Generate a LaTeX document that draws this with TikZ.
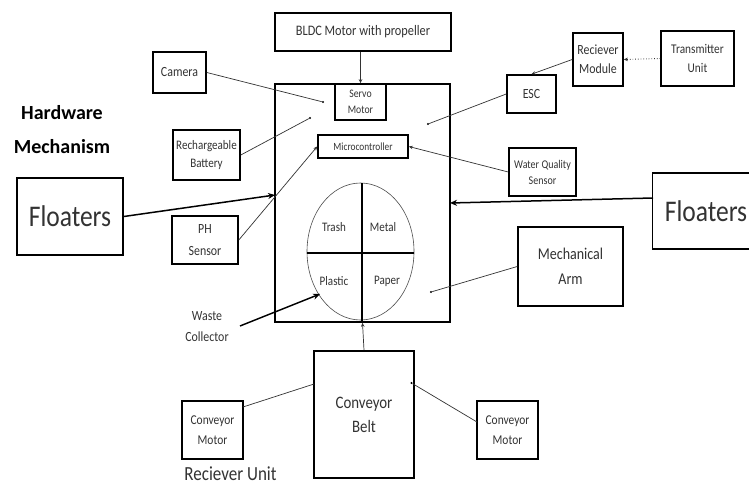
\documentclass[tikz,border=0pt]{standalone}
\usepackage{fontspec}
\setmainfont{Carlito}[FakeStretch=0.85]
\newfontfamily\headfont{Carlito}
\usetikzlibrary{arrows.meta,shapes.geometric}
\begin{document}
\begin{tikzpicture}[x=1pt,y=-1pt,
  box/.style={draw=black,line width=1.6pt,minimum width=#1,inner sep=0pt,align=center,text=black!80},
  conn/.style={draw=black!80,line width=0.7pt},
  thickarr/.style={draw=black,line width=1.5pt,-{Stealth[length=7pt,width=6pt]}},
  thinarr/.style={draw=black!80,line width=0.7pt,-{Stealth[length=4pt,width=3.5pt]}},
  dot/.style={circle,fill=black,inner sep=0pt,minimum size=2.2pt},
  fs/.style 2 args={font=\fontsize{#1}{#2}\selectfont}
]
\useasboundingbox (0,0) rectangle (749,486);
\fill[white] (0,0) rectangle (749,486);

% main frame
\node[box=175pt,minimum height=238pt] (main) at (362.5,203) {};
\node[box=176pt,minimum height=38pt,fs={14.5}{16}] (bldc) at (363,32) {BLDC Motor with propeller};
\node[box=51pt,minimum height=36pt,fs={11.5}{16}] (servo) at (360.5,102) {Servo\\Motor};
\node[box=90pt,minimum height=23pt,fs={11}{12}] (micro) at (363,146.5) {Microcontroller};

% ellipse with dividers
\node[draw=black!70,line width=0.6pt,ellipse,minimum width=107pt,minimum height=137pt,inner sep=0pt] (bin) at (360.5,251.5) {};
\coordinate (vt) at (362,183);
\coordinate (vb) at (362,322);
\coordinate (hl) at (307,253);
\coordinate (hr) at (414,253);
\draw[black,line width=1.1pt] (vt) -- (vb);
\draw[black,line width=1.1pt] (hl) -- (hr);
\node[fs={13}{13},text=black!80] (trash) at (334,227) {Trash};
\node[fs={13}{13},text=black!80] (metal) at (383,227) {Metal};
\node[fs={13}{13},text=black!80] (plastic) at (334,281) {Plastic};
\node[fs={13}{13},text=black!80] (paper) at (387,281) {Paper};

% left side
\node[box=53pt,minimum height=41pt,fs={14}{14}] (camera) at (179.5,72.5) {Camera};
\node[box=67pt,minimum height=50pt,fs={13}{18}] (battery) at (206.5,155) {Rechargeable\\Battery};
\node[box=106pt,minimum height=77pt,fs={30}{30}] (floatL) at (70,216.5) {Floaters};
\node[box=66pt,minimum height=48pt,fs={14}{22}] (ph) at (205,240) {PH\\Sensor};
\node[font=\headfont\bfseries\fontsize{20}{34}\selectfont,align=center,text=black] (hw) at (62,130) {Hardware\\Mechanism};
\node[fs={14}{21},align=center,text=black!80] (waste) at (207,326.5) {Waste\\Collector};

% bottom
\node[box=100pt,minimum height=127pt,fs={17.5}{24}] (belt) at (364,414.5) {Conveyor\\Belt};
\node[box=61pt,minimum height=58pt,fs={13.5}{20}] (cmL) at (212.5,430) {Conveyor\\Motor};
\node[box=61pt,minimum height=58pt,fs={13.5}{20}] (cmR) at (507.5,430) {Conveyor\\Motor};
\node[fs={20}{20},text=black!80] (recv) at (230.5,474) {Reciever Unit};

% right side
\node[box=105pt,minimum height=79pt,fs={16.5}{25}] (arm) at (570.5,266.5) {Mechanical\\Arm};
\node[box=107pt,minimum height=76pt,fs={30}{30}] (floatR) at (706,211) {Floaters};
\node[box=67pt,minimum height=48pt,fs={11.8}{16}] (wq) at (542.5,172) {Water Quality\\Sensor};
\node[box=49pt,minimum height=38pt,fs={14}{14}] (esc) at (531.5,94) {ESC};
\node[box=50pt,minimum height=53pt,fs={14}{19}] (rmod) at (598,59.5) {Reciever\\Module};
\node[box=73pt,minimum height=55pt,fs={13.3}{19}] (trans) at (697.5,58.5) {Transmitter\\Unit};

% end points inside the frame
\node[dot] (pCam) at (323,102) {};
\node[dot] (pBat) at (310,118) {};
\node[dot] (pEsc) at (428,124) {};
\node[dot] (pArm) at (431,292) {};
\node[dot] (pBeltR) at (411.5,383) {};
\coordinate (pBeltL) at (314,384);
\coordinate (pFL) at (275,195);
\coordinate (pFR) at (450,203);
\coordinate (pFRs) at (653,198);
\coordinate (pWaste) at (320,294);
\coordinate (pWasteS) at (240,326);
\coordinate (pCmL) at (243,407);
\coordinate (pCmR) at (477,422);

% connectors
\draw[thinarr] (bldc.south -| servo.north) -- (servo.north);
\draw[conn] (camera.east) -- (pCam);
\draw[conn] (battery.east) -- (pBat);
\draw[thinarr] (ph.east) -- (micro.west);
\draw[thinarr] (wq.west) -- (micro.east);
\draw[conn] (esc.west) -- (pEsc);
\draw[thinarr] (rmod.west) -- (esc.north);
\draw[thinarr,dotted,line width=0.9pt] (trans.west) -- (rmod.east);
\draw[conn] (arm.west) -- (pArm);
\draw[thickarr] (floatL.east) -- (pFL);
\draw[thickarr] (pFRs) -- (pFR);
\draw[thickarr,line width=1.4pt] (pWasteS) -- (pWaste);
\draw[thinarr] (belt.north) -- (main.south);
\draw[conn] (pCmL) -- (pBeltL);
\draw[conn] (pCmR) -- (pBeltR);
\end{tikzpicture}
\end{document}
